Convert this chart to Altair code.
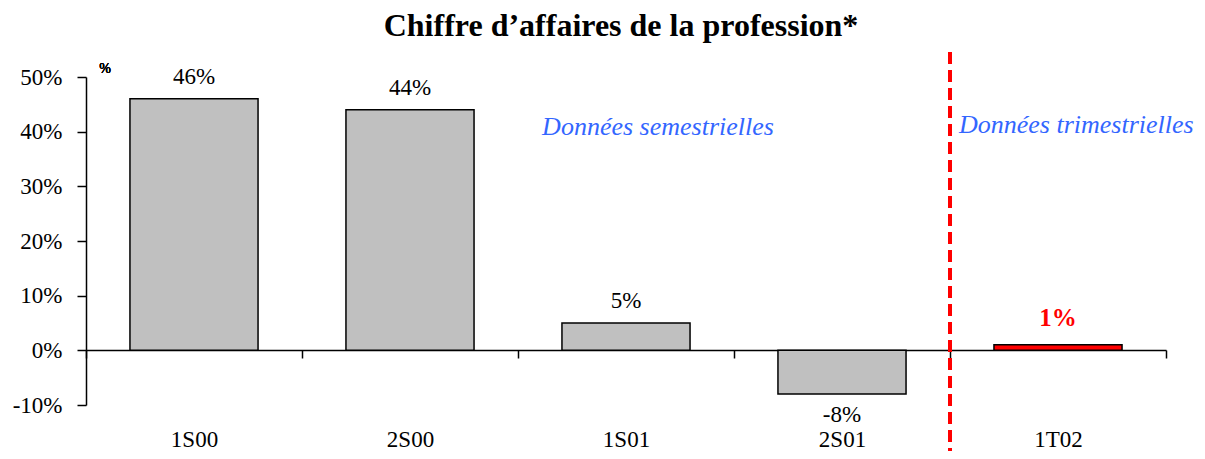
import altair as alt
import pandas as pd

periods = ["1S00", "2S00", "1S01", "2S01", "1T02"]
values = [46, 44, 5, -8, 1]
freq = ["S", "S", "S", "S", "T"]
labels = ["46%", "44%", "5%", "-8%", "1%"]
y_ticks = [-10, 0, 10, 20, 30, 40, 50]

title_text = "Chiffre d’affaires de la profession*"
note_texts = ["Données semestrielles", "Données trimestrielles"]
note_periods = ["1S01", "1T02"]
note_values = [40.8, 41.3]

F = "Liberation Serif"

df = pd.DataFrame({"period": periods, "value": values, "freq": freq, "label": labels})

xscale = alt.Scale(domain=periods, paddingInner=0, paddingOuter=0)
xaxis = alt.Axis(title=None, orient="bottom", offset=-55, domainColor="black", domainWidth=1.5,
                 tickColor="black", tickWidth=1.5, tickSize=8, tickBand="extent",
                 labelFont=F, labelFontSize=23, labelColor="black", labelPadding=70, labelAngle=0)
yscale = alt.Scale(domain=[-10, 50], nice=False, zero=False)
yaxis = alt.Axis(values=y_ticks, title=None, grid=False, labelExpr="datum.value + '%'",
                 tickSize=9, tickColor="black", tickWidth=1.5, domainColor="black", domainWidth=1.5,
                 labelPadding=15, labelFont=F, labelFontSize=23, labelColor="black")

X = alt.X("period:N", scale=xscale, axis=xaxis)
Y = alt.Y("value:Q", scale=yscale, axis=yaxis)

base = alt.Chart(df)

bars = base.mark_bar(width=alt.RelativeBandSize(0.593), stroke="black", strokeWidth=1.5).encode(
    x=X, y=Y,
    color=alt.Color("freq:N", scale=alt.Scale(domain=["S", "T"], range=["#c0c0c0", "#ff0000"]), legend=None),
)

pos = base.transform_filter("datum.freq == 'S' && datum.value >= 0").mark_text(
    baseline="bottom", dy=-10, fontSize=23, font=F, color="black").encode(x=X, y=Y, text="label:N")
neg = base.transform_filter("datum.freq == 'S' && datum.value < 0").mark_text(
    baseline="top", dy=10, fontSize=23, font=F, color="black").encode(x=X, y=Y, text="label:N")
tq = base.transform_filter("datum.freq == 'T'").mark_text(
    baseline="bottom", dy=-14, fontSize=25, font=F, fontWeight="bold", color="#ff0000").encode(x=X, y=Y, text="label:N")

rule = alt.Chart(pd.DataFrame({"period": ["1T02"]})).mark_rule(
    color="#ff0000", strokeWidth=4, strokeDash=[12, 6], clip=False).encode(
    x=alt.X("period:N", scale=xscale, axis=xaxis, bandPosition=0),
    y=alt.value(-25), y2=alt.value(382))

ndf = pd.DataFrame({"period": note_periods, "value": note_values, "t": note_texts})
note1 = alt.Chart(ndf).transform_filter("datum.period == '1S01'").mark_text(
    font=F, fontSize=26, fontStyle="italic", color="#3366ff", dx=32, align="center").encode(
    x=X, y=Y, text="t:N")
note2 = alt.Chart(ndf).transform_filter("datum.period == '1T02'").mark_text(
    font=F, fontSize=26, fontStyle="italic", color="#3366ff", dx=9, align="left").encode(
    x=alt.X("period:N", scale=xscale, axis=xaxis, bandPosition=0), y=Y, text="t:N")

pct = alt.Chart(df).mark_text(font=F, fontSize=14, color="black", text="%").encode(
    x=alt.value(19), y=alt.value(-8))

title = alt.Chart(pd.DataFrame({"t": [title_text]})).mark_text(
    font=F, fontSize=32, fontWeight="bold", color="black", align="center", baseline="alphabetic").encode(
    x=alt.value(535), y=alt.value(-41), text="t:N")

chart = alt.layer(bars, pos, neg, tq, rule, note1, note2, pct, title).properties(
    width=1080, height=328,
    background="white",
    autosize=alt.AutoSizeParams(type="none"),
    padding={"left": 78, "top": 69, "right": 31, "bottom": 46},
).configure_view(strokeWidth=0, stroke="transparent")

chart.save("out.html", embed_options={"renderer": "svg", "actions": False})
